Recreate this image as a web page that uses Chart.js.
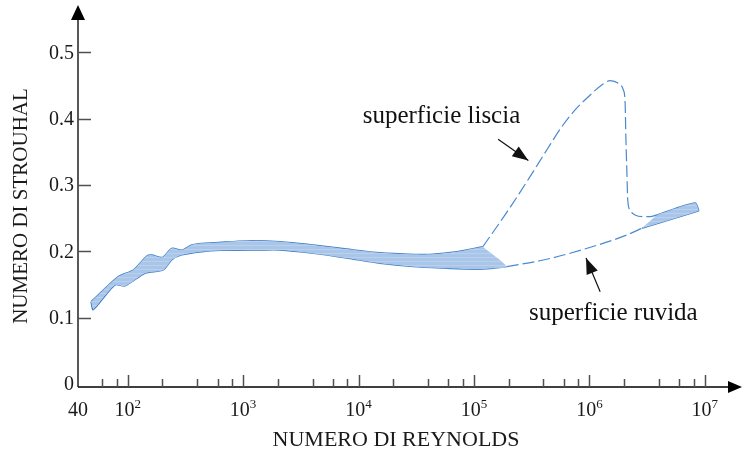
<!DOCTYPE html>
<html>
<head>
<meta charset="utf-8">
<script src="https://cdn.jsdelivr.net/npm/chart.js@4/dist/chart.umd.min.js"></script>
<style>
  html, body { margin: 0; padding: 0; background: #fff; }
  #wrap { width: 742px; height: 457px; }
</style>
</head>
<body>
<div id="wrap"><canvas id="strouhal" width="742" height="457"></canvas></div>
<script>
// ---- dati (Re, St) ----
const upperBand = [[48.1, 0.124], [82.9, 0.162], [111.8, 0.172], [146.2, 0.193], [161.5, 0.1946], [199.5, 0.191],
  [240.6, 0.2047], [293.6, 0.202], [358.6, 0.2097], [437.8, 0.2122], [571, 0.2131], [1074, 0.216], [2094, 0.2146],
  [4055, 0.2097], [7900, 0.2036], [15350, 0.198], [29850, 0.1956], [41690, 0.1956], [71000, 0.1996], [119200, 0.207]];
const lowerBand = [[50.3, 0.112], [77.6, 0.1493], [94.8, 0.1478], [141.3, 0.167], [203.5, 0.172], [240.6, 0.187],
  [293.6, 0.1946], [437.8, 0.1995], [631, 0.2015], [1400, 0.202], [2094, 0.202], [4055, 0.197],
  [7900, 0.190], [15350, 0.182], [29850, 0.177], [58100, 0.1745], [98900, 0.173], [147300, 0.1745], [192300, 0.177]];
const smoothLine = [[119200, 0.207], [198600, 0.2624], [306000, 0.3127], [427300, 0.353], [576800, 0.388],
  [751900, 0.4133], [979900, 0.4333], [1280000, 0.451], [1510000, 0.4575], [1780000, 0.4535], [1970000, 0.4434],
  [2040000, 0.4234], [2070000, 0.373], [2110000, 0.3228], [2150000, 0.2775], [2250000, 0.2624], [2490000, 0.2549],
  [2940000, 0.2523], [3360000, 0.2523], [3840000, 0.255]];
const roughLine = [[192300, 0.177], [399000, 0.187], [887000, 0.203], [2110000, 0.2247], [2840000, 0.2348]];
const highUpper = [[3840000, 0.255], [8240000, 0.273], [8900000, 0.261]];
const highLower = [[2840000, 0.2348], [8900000, 0.261]];

// ---- assi ----
const yTicks = [0, 0.1, 0.2, 0.3, 0.4, 0.5];
const yTickLabels = ["0", "0.1", "0.2", "0.3", "0.4", "0.5"];
const xDecades = [100, 1e3, 1e4, 1e5, 1e6, 1e7];
const xExponents = ["2", "3", "4", "5", "6", "7"];
const xMinor = [60, 80, 200, 400, 600, 800, 2e3, 4e3, 6e3, 8e3, 2e4, 4e4, 6e4, 8e4,
  2e5, 4e5, 6e5, 8e5, 2e6, 4e6, 6e6, 8e6];
const xOriginLabel = "40";

const blue = "#3b7cc6";
const serif = "'Liberation Serif', 'Times New Roman', serif";

const toXY = pts => pts.map(p => ({ x: p[0], y: p[1] }));

// contorno chiuso della banda: gli spigoli ripetuti evitano che la curva sbordi
const closedBand = (upper, lower) => {
  const back = lower.slice().reverse();
  return upper.concat([upper[upper.length - 1]], back, [back[back.length - 1]]);
};

// motivo tratteggiato chiaro per le bande
const makePattern = () => {
  const c = document.createElement("canvas");
  c.width = 8; c.height = 4;
  const g = c.getContext("2d");
  g.fillStyle = "#a9c5e8";
  g.fillRect(0, 0, 8, 4);
  g.fillStyle = "#b9d0ee";
  g.fillRect(0, 1, 8, 1);
  return g.createPattern(c, "repeat");
};
const hatch = makePattern();

const bandFill = (pts) => ({
  data: toXY(pts), showLine: true, fill: "shape", backgroundColor: hatch,
  borderWidth: 0, pointRadius: 0, tension: 0.25
});
const edge = (pts) => ({
  data: toXY(pts), showLine: true, fill: false, borderColor: blue,
  borderWidth: 1.3, pointRadius: 0, tension: 0.25
});
const dashed = (pts) => ({
  data: toXY(pts), showLine: true, fill: false, borderColor: "#4a89cf",
  borderWidth: 1.2, borderDash: [12, 4], pointRadius: 0, cubicInterpolationMode: "monotone"
});

// annotazioni (in coordinate dei dati)
const notes = [
  { text: "superficie liscia", x: 10860, y: 0.394, from: [161800, 0.369], to: [296000, 0.337] },
  { text: "superficie ruvida", x: 300000, y: 0.0965, from: [1240000, 0.139], to: [935000, 0.190] }
];

const arrowHead = (ctx, x0, y0, x1, y1, len, half) => {
  const a = Math.atan2(y1 - y0, x1 - x0);
  ctx.beginPath();
  ctx.moveTo(x1, y1);
  ctx.lineTo(x1 - len * Math.cos(a) + half * Math.sin(a), y1 - len * Math.sin(a) - half * Math.cos(a));
  ctx.lineTo(x1 - len * Math.cos(a) - half * Math.sin(a), y1 - len * Math.sin(a) + half * Math.cos(a));
  ctx.closePath();
  ctx.fill();
};

const axesPlugin = {
  id: "axesPlugin",
  beforeDatasetsDraw(chart) {
    const { ctx, chartArea: a, scales: { x, y } } = chart;
    ctx.save();
    // linee degli assi
    ctx.strokeStyle = "#000";
    ctx.fillStyle = "#000";
    ctx.lineWidth = 1.3;
    ctx.beginPath();
    ctx.moveTo(a.left, a.bottom); ctx.lineTo(a.right - 6, a.bottom);
    ctx.moveTo(a.left, a.bottom); ctx.lineTo(a.left, a.top + 6);
    ctx.stroke();
    arrowHead(ctx, a.left, a.bottom, a.right, a.bottom, 14, 6);
    arrowHead(ctx, a.left, a.bottom, a.left, a.top, 15, 7);

    // tacche verso l'interno
    ctx.strokeStyle = "#505050";
    ctx.lineWidth = 1.5;
    ctx.beginPath();
    yTicks.slice(1).forEach(v => {
      const py = Math.round(y.getPixelForValue(v)) + 0.5;
      ctx.moveTo(a.left, py); ctx.lineTo(a.left + 13, py);
    });
    xDecades.forEach(v => {
      const px = Math.round(x.getPixelForValue(v)) + 0.5;
      ctx.moveTo(px, a.bottom); ctx.lineTo(px, a.bottom - 12);
    });
    xMinor.forEach(v => {
      const px = Math.round(x.getPixelForValue(v)) + 0.5;
      ctx.moveTo(px, a.bottom); ctx.lineTo(px, a.bottom - 8);
    });
    ctx.stroke();

    // etichette
    ctx.fillStyle = "#1a1a1a";
    ctx.font = "20px " + serif;
    ctx.textAlign = "right";
    ctx.textBaseline = "middle";
    yTicks.forEach((v, i) => ctx.fillText(yTickLabels[i], a.left - 4, y.getPixelForValue(v) + 1));

    ctx.textBaseline = "alphabetic";
    ctx.textAlign = "center";
    ctx.fillText(xOriginLabel, a.left, 416);
    xDecades.forEach((v, i) => {
      const px = x.getPixelForValue(v);
      ctx.font = "20px " + serif;
      const wBase = ctx.measureText("10").width;
      ctx.font = "13px " + serif;
      const wExp = ctx.measureText(xExponents[i]).width;
      const left = px - (wBase + wExp) / 2;
      ctx.textAlign = "left";
      ctx.font = "20px " + serif;
      ctx.fillText("10", left, 416);
      ctx.font = "13px " + serif;
      ctx.fillText(xExponents[i], left + wBase, 408);
    });

    // titoli degli assi
    ctx.textAlign = "center";
    ctx.font = "22px " + serif;
    ctx.fillText("NUMERO DI REYNOLDS", 396, 446);
    ctx.font = "21px " + serif;
    ctx.save();
    ctx.translate(27, 206);
    ctx.rotate(-Math.PI / 2);
    ctx.fillText("NUMERO DI STROUHAL", 0, 0);
    ctx.restore();
    ctx.restore();
  },
  afterDatasetsDraw(chart) {
    const { ctx, scales: { x, y } } = chart;
    ctx.save();
    ctx.fillStyle = "#111";
    ctx.strokeStyle = "#111";
    ctx.font = "25px " + serif;
    ctx.textAlign = "left";
    ctx.textBaseline = "alphabetic";
    notes.forEach(n => {
      ctx.fillText(n.text, x.getPixelForValue(n.x), y.getPixelForValue(n.y));
      const x0 = x.getPixelForValue(n.from[0]), y0 = y.getPixelForValue(n.from[1]);
      const x1 = x.getPixelForValue(n.to[0]), y1 = y.getPixelForValue(n.to[1]);
      ctx.lineWidth = 1.2;
      ctx.beginPath(); ctx.moveTo(x0, y0); ctx.lineTo(x1, y1); ctx.stroke();
      arrowHead(ctx, x0, y0, x1, y1, 16, 6);
    });
    ctx.restore();
  }
};

new Chart(document.getElementById("strouhal"), {
  type: "scatter",
  data: {
    datasets: [
      bandFill(closedBand(upperBand, lowerBand)),
      edge(upperBand),
      edge([upperBand[0]].concat(lowerBand)),
      dashed(smoothLine),
      dashed(roughLine),
      bandFill(closedBand(highUpper, highLower)),
      edge(highUpper),
      edge(highLower)
    ]
  },
  options: {
    responsive: false,
    animation: false,
    events: [],
    layout: { padding: { left: 78, right: 0, top: 5, bottom: 70 } },
    plugins: { legend: { display: false }, tooltip: { enabled: false } },
    scales: {
      x: { type: "logarithmic", min: 37.1, max: 2.1e7, display: false },
      y: { type: "linear", min: -0.0045, max: 0.5716, display: false }
    }
  },
  plugins: [axesPlugin]
});
</script>
</body>
</html>
